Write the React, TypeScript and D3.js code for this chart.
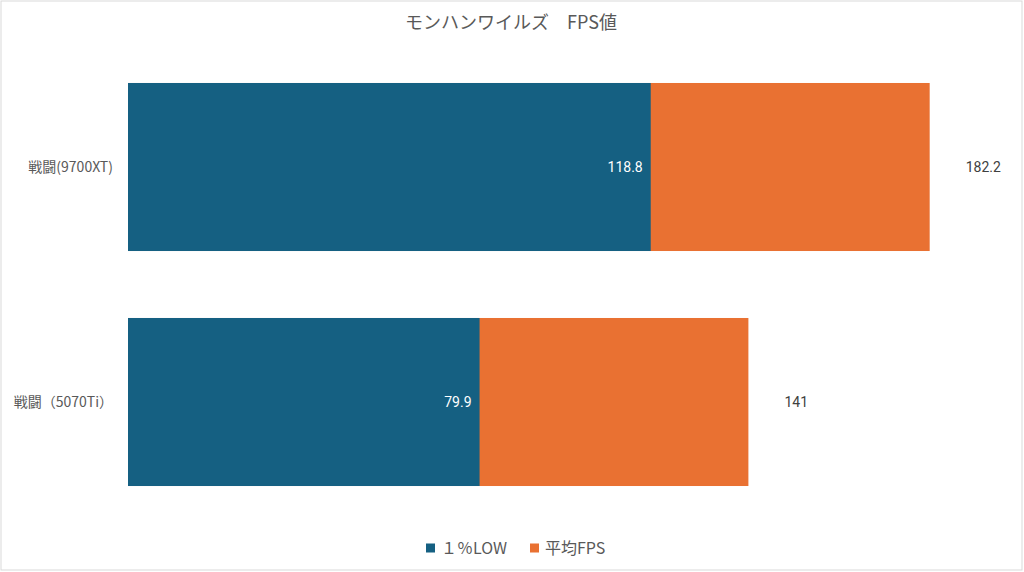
import React, { useEffect } from 'react';
import * as d3 from 'd3';

// chart data
const categories = ['戦闘(9700XT)', '戦闘（5070Ti）'];
const lowValues = [118.8, 79.9];
const avgValues = [182.2, 141];
const seriesNames = ['１％LOW', '平均FPS'];
const seriesColors = ['#156082', '#E97132'];

const W = 1024;
const H = 572;
const jpFont = '"Noto Sans CJK JP", "Noto Sans", sans-serif';
const numFont = 'Roboto, "Noto Sans", sans-serif';

const App: React.FC = () => {
   useEffect(() => {
      document.body.style.margin = '0';
   }, []);

   const x = d3.scaleLinear().domain([0, 200]).range([128, 1008]);
   const y = d3
      .scaleBand<string>()
      .domain(categories)
      .range([49.5, 519.5])
      .paddingInner(0.285)
      .paddingOuter(0.1425);

   const bw = y.bandwidth();

   // legend layout
   const legendX = [426, 530];
   const legendY = 548;

   return (
      <svg width={W} height={H} style={{ display: 'block' }}>
         <rect x={1} y={1} width={W - 3} height={H - 3} fill="#fff" stroke="#d9d9d9" strokeWidth={1} />
         <text
            x={511}
            y={29}
            textAnchor="middle"
            fontFamily={jpFont}
            fontSize={18}
            fill="#595959"
         >
            モンハンワイルズ　FPS値
         </text>

         {/* average fps bars behind */}
         {categories.map((c, i) => (
            <rect
               key={'avg' + c}
               x={x(0)}
               y={y(c)}
               width={x(avgValues[i]) - x(0)}
               height={bw}
               fill={seriesColors[1]}
            />
         ))}
         {/* 1% low bars in front */}
         {categories.map((c, i) => (
            <rect
               key={'low' + c}
               x={x(0)}
               y={y(c)}
               width={x(lowValues[i]) - x(0)}
               height={bw}
               fill={seriesColors[0]}
            />
         ))}

         {categories.map((c, i) => (
            <g key={'lbl' + c}>
               <text
                  x={113}
                  y={(y(c) ?? 0) + bw / 2}
                  dy="0.35em"
                  textAnchor="end"
                  fontFamily={jpFont}
                  fontSize={14}
                  fill="#595959"
               >
                  {c}
               </text>
               <text
                  x={x(lowValues[i]) - 8}
                  y={(y(c) ?? 0) + bw / 2}
                  dy="0.35em"
                  textAnchor="end"
                  fontFamily={numFont}
                  fontSize={14}
                  fill="#fff"
               >
                  {lowValues[i]}
               </text>
               <text
                  x={x(avgValues[i]) + 36}
                  y={(y(c) ?? 0) + bw / 2}
                  dy="0.35em"
                  textAnchor="start"
                  fontFamily={numFont}
                  fontSize={14}
                  fill="#404040"
               >
                  {avgValues[i]}
               </text>
            </g>
         ))}

         {seriesNames.map((s, i) => (
            <g key={'leg' + s} transform={`translate(${legendX[i]},${legendY})`}>
               <rect x={0} y={-4.5} width={9} height={9} fill={seriesColors[i]} />
               <text
                  x={15}
                  y={0}
                  dy="0.35em"
                  fontFamily={jpFont}
                  fontSize={16}
                  fill="#595959"
               >
                  {s}
               </text>
            </g>
         ))}
      </svg>
   );
};

export default App;
